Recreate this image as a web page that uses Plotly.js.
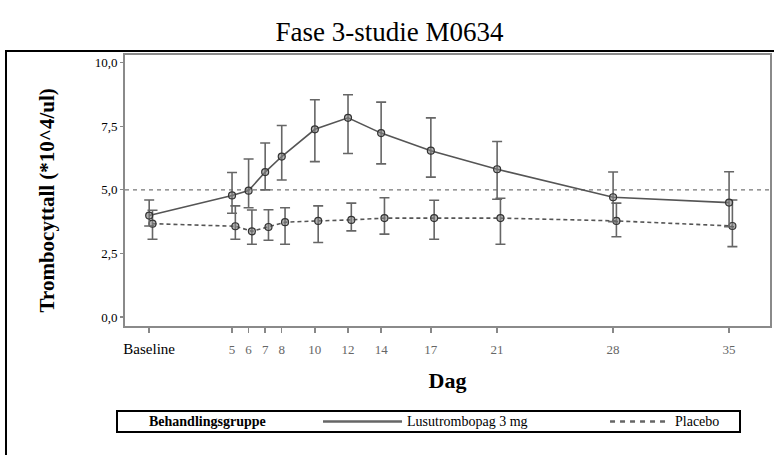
<!DOCTYPE html>
<html>
<head>
<meta charset="utf-8">
<script src="https://cdn.plot.ly/plotly-3.0.1.min.js"></script>
<style>html,body{margin:0;padding:0;background:#fff;}#chart{width:774px;height:455px;}</style>
</head>
<body>
<div id="chart"></div>
<script>
// Days (0 = Baseline)
var days = [0, 5, 6, 7, 8, 10, 12, 14, 17, 21, 28, 35];
var tickLabels = ['Baseline', '5', '6', '7', '8', '10', '12', '14', '17', '21', '28', '35'];

// Lusutrombopag 3 mg: mean and error bar limits (*10^4/ul)
var lusuMean  = [3.99, 4.78, 4.97, 5.70, 6.31, 7.38, 7.83, 7.23, 6.54, 5.81, 4.71, 4.50];
var lusuUpper = [4.60, 5.68, 6.21, 6.84, 7.53, 8.54, 8.74, 8.45, 7.83, 6.90, 5.70, 5.71];
var lusuLower = [3.58, 4.08, 4.30, 5.00, 5.39, 6.11, 6.43, 6.02, 5.50, 4.63, 3.75, 3.55];

// Placebo: mean and error bar limits
var placMean  = [3.67, 3.57, 3.37, 3.54, 3.73, 3.78, 3.82, 3.89, 3.89, 3.89, 3.78, 3.58];
var placUpper = [4.20, 4.37, 4.21, 4.22, 4.30, 4.37, 4.48, 4.69, 4.59, 4.67, 4.48, 4.60];
var placLower = [3.06, 3.06, 2.86, 3.02, 2.86, 2.93, 3.39, 3.26, 3.06, 2.86, 3.16, 2.77];

var refLevel = 5.0;

var seriesNames = ['Lusutrombopag 3 mg', 'Placebo'];
var legendTitle = 'Behandlingsgruppe';
var yTitle = 'Trombocyttall (*10^4/ul)';

var FONT = 'Liberation Serif';
var placOffset = 0.2; // small horizontal dodge for placebo markers

function diff(a, b) { return a.map(function (v, i) { return v - b[i]; }); }

var lineColor = '#555555';
var markerStyle = {symbol: 'circle', size: 7, color: 'rgba(130,130,130,0.6)', line: {color: '#333333', width: 1.2}};

var traceLusu = {
  type: 'scatter', mode: 'lines+markers', name: seriesNames[0],
  x: days, y: lusuMean,
  line: {color: lineColor, width: 1.6},
  marker: markerStyle,
  error_y: {type: 'data', symmetric: false, array: diff(lusuUpper, lusuMean), arrayminus: diff(lusuMean, lusuLower),
            color: '#666666', thickness: 1.6, width: 5},
  showlegend: false, cliponaxis: false
};
var tracePlac = {
  type: 'scatter', mode: 'lines+markers', name: seriesNames[1],
  x: days.map(function (d) { return d + placOffset; }), y: placMean,
  line: {color: lineColor, width: 1.6, dash: '4px,3px'},
  marker: markerStyle,
  error_y: {type: 'data', symmetric: false, array: diff(placUpper, placMean), arrayminus: diff(placMean, placLower),
            color: '#666666', thickness: 1.6, width: 5},
  showlegend: false, cliponaxis: false
};

var ticktext = tickLabels.map(function (t, i) {
  return i === 0 ? '<span style="fill:#000;font-size:15px">' + t + '</span>' : t;
});

var layout = {
  width: 774, height: 455,
  margin: {l: 125, r: 4, t: 55, b: 129},
  paper_bgcolor: '#ffffff', plot_bgcolor: '#ffffff',
  font: {family: FONT, color: '#000'},
  separators: ',.',
  title: {text: 'Fase 3-studie M0634', font: {family: FONT, size: 27, color: '#000'},
          xref: 'paper', x: 0.41, xanchor: 'center', yref: 'container', y: 0.93, yanchor: 'middle'},
  xaxis: {
    range: [-1.46, 37.47], showgrid: false, zeroline: false,
    tickmode: 'array', tickvals: days, ticktext: ticktext,
    ticks: 'outside', ticklen: 5, tickwidth: 1.5, tickcolor: '#888',
    tickfont: {family: FONT, size: 13, color: '#666'},
    ticklabelstandoff: 5,
    showline: true, mirror: true, linecolor: '#8a8a8a', linewidth: 2,
    title: {text: '<b>Dag</b>', font: {family: FONT, size: 22, color: '#000'}, standoff: 17}
  },
  yaxis: {
    range: [-0.35, 10.3], showgrid: false, zeroline: false,
    tickmode: 'array', tickvals: [0, 2.5, 5, 7.5, 10], tickformat: '.1f',
    ticks: 'outside', ticklen: 3, tickwidth: 1.2, tickcolor: '#888',
    tickfont: {family: FONT, size: 13, color: '#000'},
    showline: true, mirror: true, linecolor: '#8a8a8a', linewidth: 2
  },
  shapes: [
    // reference line
    {type: 'line', xref: 'paper', yref: 'y', x0: 0, x1: 1, y0: refLevel, y1: refLevel,
     line: {color: '#777', width: 1.3, dash: '4px,4px'}, layer: 'below'},
    // outer frame
    {type: 'rect', xref: 'paper', yref: 'paper', x0: -0.1845, x1: 1.03, y0: -0.5, y1: 1.0148,
     line: {color: '#000', width: 2}, fillcolor: 'rgba(0,0,0,0)'},
    // legend box
    {type: 'rect', xref: 'paper', yref: 'paper', x0: -0.0124, x1: 0.9535, y0: -0.391, y1: -0.3137,
     line: {color: '#000', width: 2}, fillcolor: 'rgba(0,0,0,0)'},
    // legend samples
    {type: 'line', xref: 'paper', yref: 'paper', x0: 0.307, x1: 0.4295, y0: -0.3524, y1: -0.3524,
     line: {color: '#666', width: 2.5}},
    {type: 'line', xref: 'paper', yref: 'paper', x0: 0.752, x1: 0.845, y0: -0.3524, y1: -0.3524,
     line: {color: '#666', width: 2.5, dash: '5px,5px'}}
  ],
  annotations: [
    // y-axis title (rotated)
    {text: '<b>' + yTitle + '</b>', xref: 'paper', yref: 'paper', x: -0.1194, y: 0.4631,
     xanchor: 'center', yanchor: 'middle', textangle: -90, showarrow: false,
     font: {family: FONT, size: 21, color: '#000'}},
    {text: '<b>' + legendTitle + '</b>', xref: 'paper', yref: 'paper', x: 0.0341, y: -0.3524,
     xanchor: 'left', yanchor: 'middle', showarrow: false, font: {family: FONT, size: 14, color: '#000'}},
    {text: seriesNames[0], xref: 'paper', yref: 'paper', x: 0.434, y: -0.3524,
     xanchor: 'left', yanchor: 'middle', showarrow: false, font: {family: FONT, size: 14, color: '#000'}},
    {text: seriesNames[1], xref: 'paper', yref: 'paper', x: 0.8496, y: -0.3524,
     xanchor: 'left', yanchor: 'middle', showarrow: false, font: {family: FONT, size: 14, color: '#000'}}
  ]
};

Plotly.newPlot('chart', [tracePlac, traceLusu], layout, {displayModeBar: false, staticPlot: true});
</script>
</body>
</html>
